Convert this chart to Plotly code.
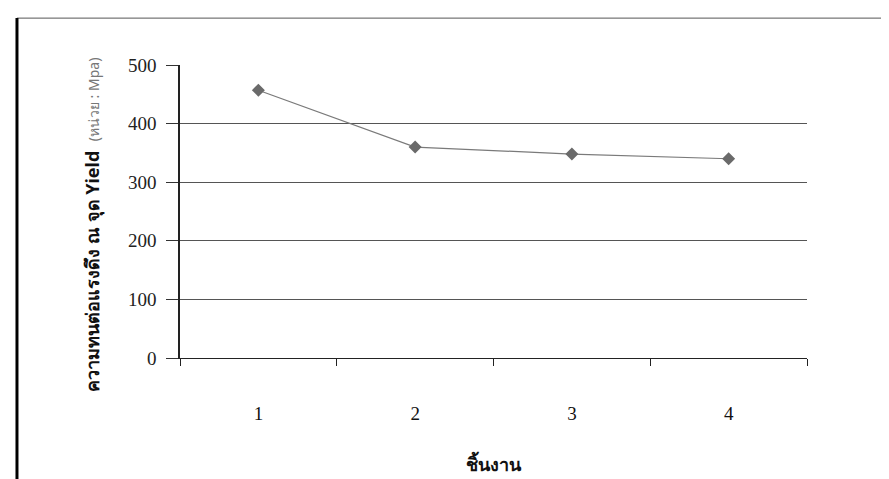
import plotly.graph_objects as go

specimens = ["1", "2", "3", "4"]
yield_strength = [457, 360, 348, 340]
y_ticks = [0, 100, 200, 300, 400, 500]

y_title_main = "ความทนต่อแรงดึง ณ จุด Yield"
y_title_unit = "(หน่วย : Mpa)"
x_title = "ชิ้นงาน"

serif = "Liberation Serif, Times New Roman, serif"
thai = "Noto Sans, DejaVu Sans, sans-serif"

fig = go.Figure()
fig.add_trace(go.Scatter(
    x=specimens, y=yield_strength, mode="lines+markers",
    line=dict(color="#7a7a7a", width=1.2),
    marker=dict(symbol="diamond", size=10, color="#6a6a6a"),
    showlegend=False,
))

fig.update_layout(
    width=889, height=479,
    margin=dict(l=172, r=90, t=57, b=129),
    paper_bgcolor="white", plot_bgcolor="white",
    font=dict(family=serif, size=19, color="#111"),
    xaxis=dict(
        type="category", range=[-0.5, 3.5], tickson="boundaries",
        ticks="outside", ticklen=7, tickcolor="#222",
        showline=True, linecolor="#222", linewidth=1,
        showgrid=False, ticklabelstandoff=38,
        tickfont=dict(family=serif, size=19, color="#111"),
    ),
    yaxis=dict(
        range=[0, 500], tickvals=y_ticks, ticks="outside", ticklen=12,
        tickcolor="#333", showline=True, linecolor="#222", linewidth=1.5,
        showgrid=True, gridcolor="#555", gridwidth=1, zeroline=False,
        ticklabelstandoff=6,
        tickfont=dict(family=serif, size=19, color="#222"),
    ),
    shapes=[
        dict(type="line", xref="paper", yref="paper", x0=-0.26, x1=1.16,
             y0=1.16, y1=1.16, line=dict(color="#555", width=1)),
        dict(type="line", xref="paper", yref="paper", x0=-0.26, x1=-0.26,
             y0=1.16, y1=-0.45, line=dict(color="black", width=3)),
    ],
    annotations=[
        dict(xref="paper", yref="paper", x=-0.139, y=0.454, textangle=-90,
             showarrow=False, xanchor="center", yanchor="middle",
             text="<b>" + y_title_main + "</b>  <span style='color:#777;font-size:14px'>"
                  + y_title_unit + "</span>",
             font=dict(family=thai, size=18, color="#111")),
        dict(xref="paper", yref="paper", x=0.5, y=-0.36, showarrow=False,
             xanchor="center", yanchor="middle", text="<b>" + x_title + "</b>",
             font=dict(family=thai, size=18, color="#111")),
    ],
)

fig.write_html("out.html")
